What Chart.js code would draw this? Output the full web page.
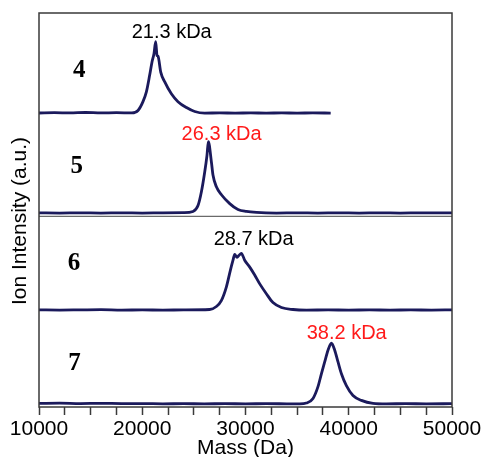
<!DOCTYPE html>
<html>
<head>
<meta charset="utf-8">
<script src="https://cdn.jsdelivr.net/npm/chart.js@4.4.0/dist/chart.umd.min.js"></script>
<style>
    body { margin: 0; background: #fff; }
    canvas { display: block; }
</style>
</head>
<body>
<canvas id="ms-chart" width="485" height="457"></canvas>
<script>
// Sample names, peak labels and label colours
const sampleNames = ['4', '5', '6', '7'];
const peakLabels = ['21.3 kDa', '26.3 kDa', '28.7 kDa', '38.2 kDa'];
const peakLabelColors = ['#000000', '#ff1a1a', '#000000', '#ff1a1a'];

// Baseline of each trace on the shared intensity axis (stacked panels)
const baselines = [2.98, 1.965, 0.98, 0.027];

// Sample 4
const mass4 = [10000, 11500, 13000, 14500, 16000, 17500, 19000, 19590, 20070, 20400, 20720, 20940, 21140, 21300, 21430, 21530, 21790, 22180, 22820, 23460, 24280, 25080, 26050, 27500, 29000, 30500, 32000, 33500, 35000, 36500, 38250];
const int4 = [0.005, 0.008, 0.006, 0.01, 0.006, 0.008, 0.006, 0.03, 0.12, 0.22, 0.39, 0.52, 0.61, 0.73, 0.59, 0.58, 0.42, 0.32, 0.20, 0.12, 0.06, 0.02, 0.004, 0.006, 0.004, 0.006, 0.004, 0.006, 0.004, 0.006, 0.004];

// Sample 5
const mass5 = [10000, 12000, 14000, 16000, 18000, 20000, 22000, 24000, 24915, 25400, 25730, 26050, 26270, 26400, 26700, 26850, 27180, 27670, 28470, 29270, 30090, 31060, 33000, 35000, 37000, 39000, 41000, 43000, 45000, 47000, 50000];
const int5 = [0.006, 0.004, 0.006, 0.004, 0.006, 0.004, 0.006, 0.008, 0.02, 0.08, 0.22, 0.42, 0.59, 0.73, 0.52, 0.39, 0.27, 0.19, 0.10, 0.04, 0.02, 0.01, 0.004, 0.006, 0.004, 0.006, 0.004, 0.006, 0.004, 0.006, 0.006];

// Sample 6
const mass6 = [10000, 12000, 14000, 16000, 18000, 20000, 22000, 24000, 26530, 27180, 27660, 28150, 28540, 28790, 28950, 29180, 29370, 29600, 29920, 30410, 30890, 31380, 32020, 32660, 33480, 34600, 35900, 38000, 40000, 42000, 44000, 46000, 48000, 50000];
const int6 = [0.006, 0.004, 0.006, 0.008, 0.004, 0.006, 0.004, 0.006, 0.01, 0.04, 0.10, 0.24, 0.41, 0.51, 0.57, 0.54, 0.56, 0.58, 0.51, 0.44, 0.36, 0.27, 0.17, 0.08, 0.03, 0.01, 0.004, 0.006, 0.004, 0.006, 0.004, 0.006, 0.004, 0.006];

// Sample 7
const mass7 = [10000, 12000, 14000, 16000, 18000, 20000, 22000, 24000, 26000, 28000, 30000, 32000, 34000, 35250, 35900, 36540, 37020, 37350, 37670, 37990, 38320, 38640, 38960, 39290, 39770, 40410, 41220, 42350, 43650, 45500, 47500, 50000];
const int7 = [0.01, 0.012, 0.008, 0.01, 0.008, 0.008, 0.005, 0.007, 0.005, 0.007, 0.005, 0.007, 0.005, 0.004, 0.013, 0.06, 0.18, 0.31, 0.43, 0.55, 0.62, 0.55, 0.43, 0.31, 0.19, 0.09, 0.04, 0.01, 0.005, 0.007, 0.005, 0.007];

// x axis tick labels
const xTickLabels = [10000, 20000, 30000, 40000, 50000];

const masses = [mass4, mass5, mass6, mass7];
const intensities = [int4, int5, int6, int7];

const lineColor = '#1b1a5c';
const frameColor = '#3a3a3a';
const sansFont = '"Liberation Sans", Arial, sans-serif';

// where the text sits: [mass, intensity axis value]
const peakLabelPos = [[22850, 3.80], [27690, 2.77], [30790, 1.70], [39800, 0.75]];
const namePos = [[13900, 3.42], [13650, 2.44], [13400, 1.46], [13450, 0.44]];

const datasets = masses.map((m, i) => ({
    label: sampleNames[i],
    data: m.map((x, j) => ({ x: x, y: intensities[i][j] + baselines[i] })),
    borderColor: lineColor,
    borderWidth: 2.8,
    pointRadius: 0,
    cubicInterpolationMode: 'monotone',
    fill: false
}));

const framePlugin = {
    id: 'frame',
    afterDatasetsDraw(chart) {
        const { ctx, chartArea: a, scales } = chart;
        const xs = scales.x, ys = scales.y;
        ctx.save();

        // divider between the two stacked figures
        ctx.strokeStyle = '#6a6a6a';
        ctx.lineWidth = 1.2;
        const yd = ys.getPixelForValue(1.935);
        ctx.beginPath();
        ctx.moveTo(a.left, yd);
        ctx.lineTo(a.right, yd);
        ctx.stroke();

        // frame
        ctx.strokeStyle = frameColor;
        ctx.lineWidth = 1.5;
        ctx.strokeRect(a.left, a.top, a.right - a.left, a.bottom - a.top);

        // peak labels
        ctx.textAlign = 'center';
        ctx.textBaseline = 'middle';
        ctx.font = '20px ' + sansFont;
        peakLabels.forEach((t, i) => {
            ctx.fillStyle = peakLabelColors[i];
            ctx.fillText(t, xs.getPixelForValue(peakLabelPos[i][0]), ys.getPixelForValue(peakLabelPos[i][1]));
        });

        // sample numbers
        ctx.fillStyle = '#000';
        ctx.font = 'bold 25px "Liberation Serif", "Times New Roman", serif';
        sampleNames.forEach((t, i) => {
            ctx.fillText(t, xs.getPixelForValue(namePos[i][0]), ys.getPixelForValue(namePos[i][1]));
        });

        // y axis title
        ctx.translate(20, 221);
        ctx.rotate(-Math.PI / 2);
        ctx.font = '21px ' + sansFont;
        ctx.fillText('Ion Intensity (a.u.)', 0, 0);
        ctx.restore();
    }
};

new Chart(document.getElementById('ms-chart'), {
    type: 'line',
    data: { datasets: datasets },
    options: {
        responsive: false,
        animation: false,
        devicePixelRatio: 1,
        layout: { padding: { top: 13, right: 33, left: 0, bottom: 0 } },
        plugins: {
            legend: { display: false },
            tooltip: { enabled: false }
        },
        scales: {
            x: {
                type: 'linear',
                min: 10000,
                max: 50000,
                afterFit: s => { s.height = 50; },
                border: { display: false },
                grid: {
                    drawOnChartArea: false,
                    drawTicks: true,
                    tickLength: 8,
                    tickWidth: 1.5,
                    color: frameColor
                },
                ticks: {
                    stepSize: 2500,
                    autoSkip: false,
                    maxRotation: 0,
                    padding: 2,
                    color: '#000',
                    font: { family: sansFont, size: 21 },
                    callback: v => xTickLabels.includes(v) ? String(v) : ''
                },
                title: {
                    display: true,
                    text: 'Mass (Da)',
                    color: '#000',
                    padding: { top: 0, bottom: -4 },
                    font: { family: sansFont, size: 21 }
                }
            },
            y: {
                min: 0,
                max: 4,
                afterFit: s => { s.width = 39; },
                border: { display: false },
                grid: { display: false },
                ticks: { display: false },
                title: { display: false }
            }
        }
    },
    plugins: [framePlugin]
});
</script>
</body>
</html>
